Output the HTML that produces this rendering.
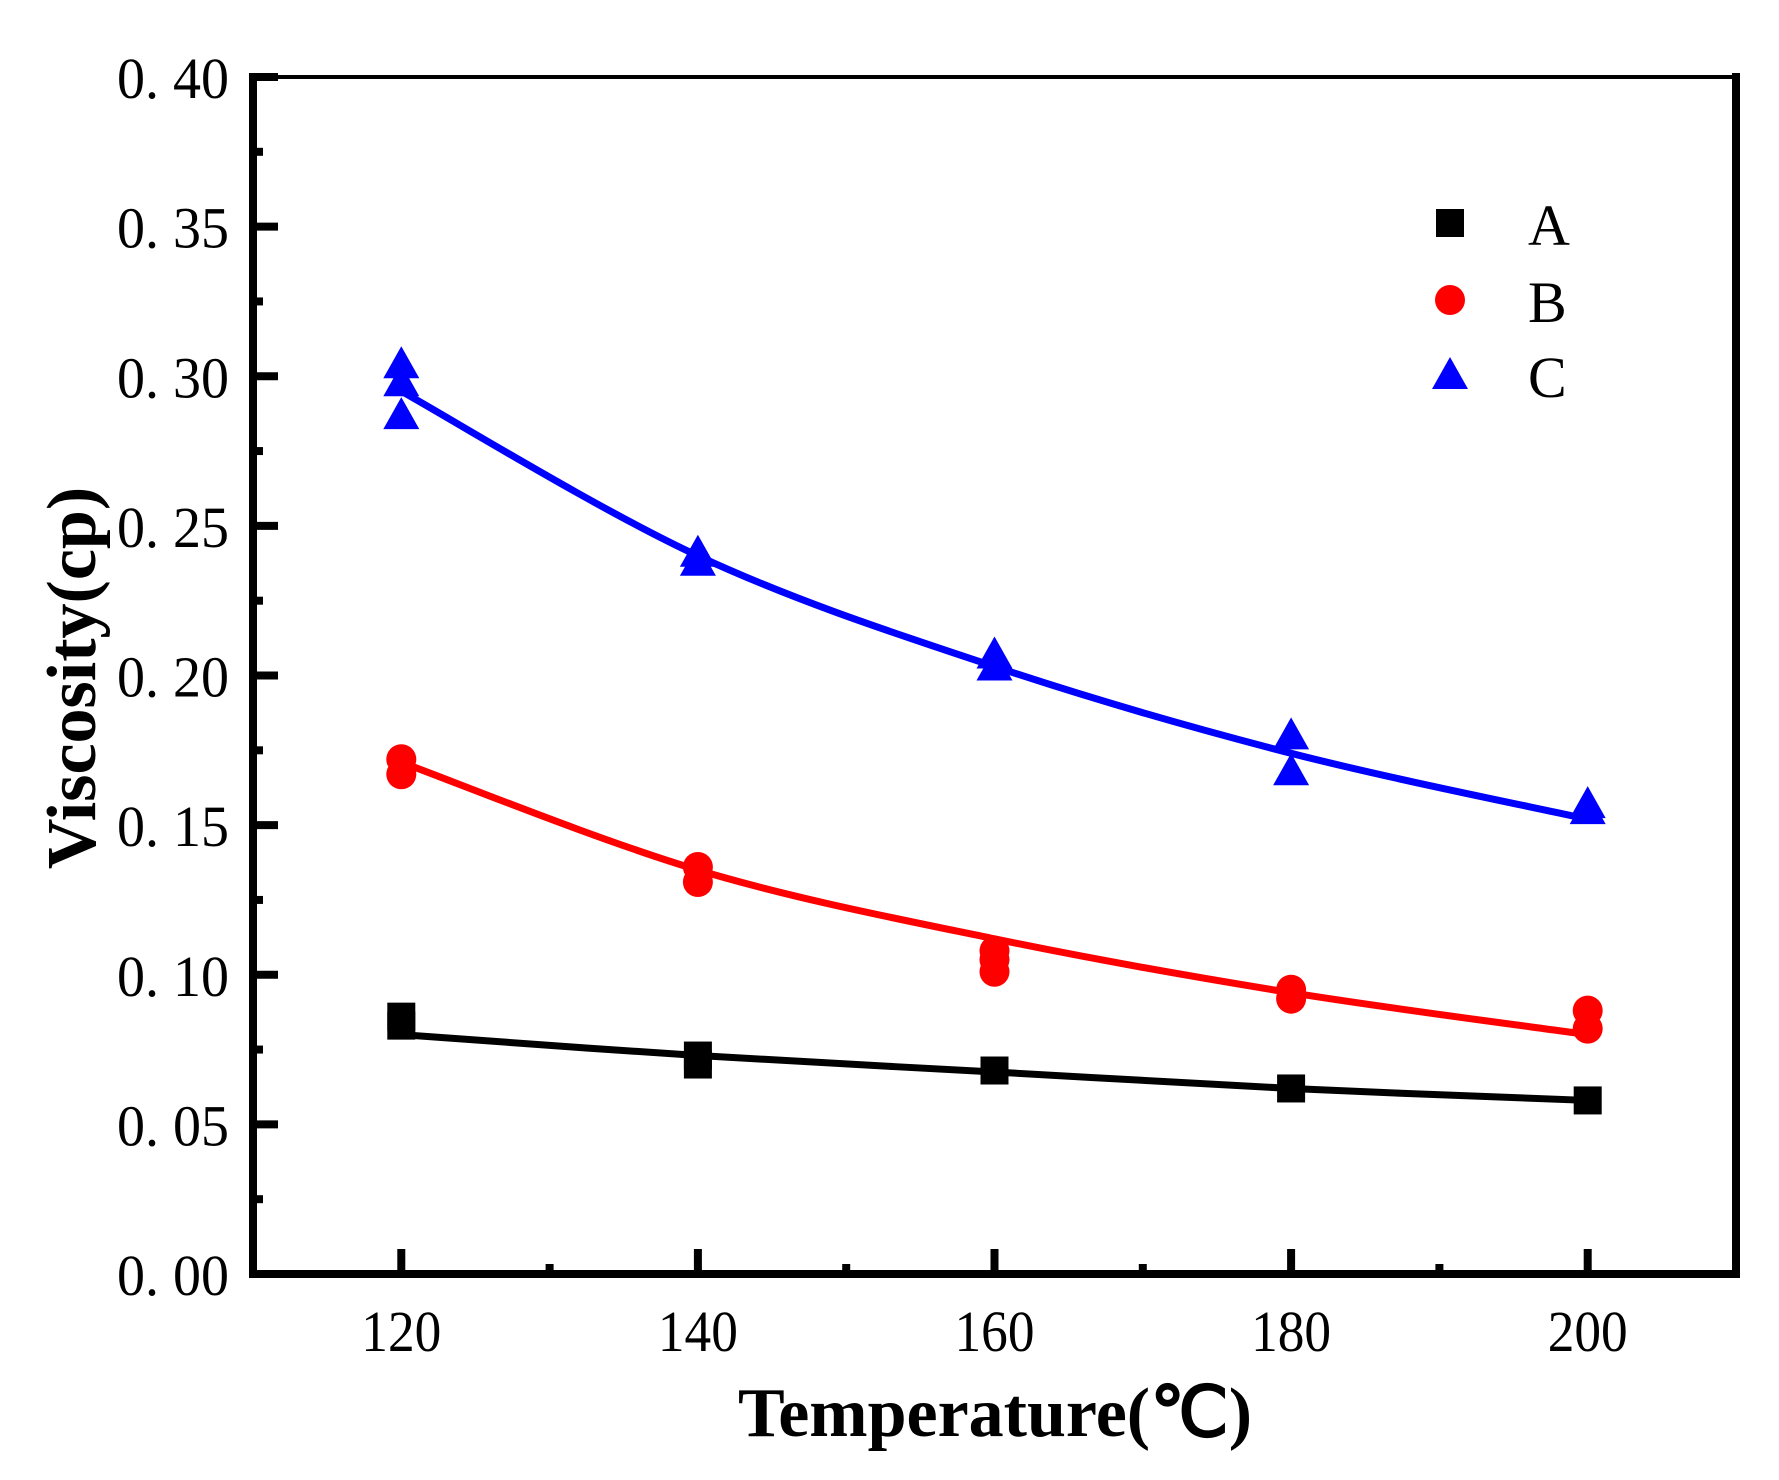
<!DOCTYPE html>
<html><head><meta charset="utf-8"><style>body{margin:0;background:#fff}svg{display:block}</style></head>
<body>
<svg id="chart" width="1779" height="1480" xmlns="http://www.w3.org/2000/svg">
<rect width="1779" height="1480" fill="#fff"/>
<g id="plot"></g>
</svg>
<script>
const xTicks=[120,140,160,180,200];
const yTicks=[0,0.05,0.10,0.15,0.20,0.25,0.30,0.35,0.40];
const yLabels=["0. 00","0. 05","0. 10","0. 15","0. 20","0. 25","0. 30","0. 35","0. 40"];
const temps=[120,140,160,180,200];
const ptsAx=[120,120,140,140,160,180,200];
const ptsAy=[0.086,0.083,0.073,0.070,0.068,0.062,0.058];
const fitA=[0.080,0.073,0.0675,0.062,0.058];
const ptsBx=[120,120,140,140,160,160,160,180,180,200,200];
const ptsBy=[0.172,0.167,0.136,0.131,0.108,0.105,0.101,0.095,0.092,0.088,0.082];
const fitB=[0.171,0.135,0.112,0.094,0.080];
const ptsCx=[120,120,120,140,140,160,160,180,180,200,200];
const ptsCy=[0.304,0.298,0.287,0.241,0.238,0.207,0.203,0.180,0.168,0.157,0.155];
const fitC=[0.295,0.240,0.203,0.174,0.152];

const L=253,R=1736,T=77,B=1274;
const X=v=>L+(v-110)/(100)*(R-L);
const Y=v=>B-v/0.40*(B-T);
const NS="http://www.w3.org/2000/svg";
const g=document.getElementById('plot');
function mk(t,a,p){const e=document.createElementNS(NS,t);for(const k in a)e.setAttribute(k,a[k]);(p||g).appendChild(e);return e;}

function curve(ys){
  const p=temps.map((t,i)=>[X(t),Y(ys[i])]);
  let d=`M${p[0][0]},${p[0][1]}`;
  for(let i=0;i<p.length-1;i++){
    const p0=p[Math.max(0,i-1)],p1=p[i],p2=p[i+1],p3=p[Math.min(p.length-1,i+2)];
    d+=` C${p1[0]+(p2[0]-p0[0])/6},${p1[1]+(p2[1]-p0[1])/6} ${p2[0]-(p3[0]-p1[0])/6},${p2[1]-(p3[1]-p1[1])/6} ${p2[0]},${p2[1]}`;
  }
  return d;
}
const series=[
 {n:'a',c:'#000',xs:ptsAx,ys:ptsAy,f:fitA,s:'sq'},
 {n:'b',c:'#ff0000',xs:ptsBx,ys:ptsBy,f:fitB,s:'ci'},
 {n:'c',c:'#0000ff',xs:ptsCx,ys:ptsCy,f:fitC,s:'tr'}];
function marker(s,x,y,c,name){
  let e;
  if(s==='sq')e=mk('rect',{x:x-14,y:y-14,width:28,height:28,fill:c});
  else if(s==='ci')e=mk('circle',{cx:x,cy:y,r:15,fill:c});
  else e=mk('polygon',{points:`${x},${y-18} ${x-18},${y+14} ${x+18},${y+14}`,fill:c});
  
  
}
series.forEach(s=>{
  const p=mk('path',{d:curve(s.f),fill:'none',stroke:s.c,'stroke-width':7});
  
  
  s.xs.forEach((x,i)=>marker(s.s,X(x),Y(s.ys[i]),s.c,'point-'+s.n));
});

const fr=mk('path',{d:`M${L},${T} H${R} V${B} H${L} Z`,fill:'none',stroke:'#000','stroke-width':4});

const ax=mk('path',{d:`M${L},${T-4} V${B} H${R+4} M${R},${T-4} V${B}`,fill:'none',stroke:'#000','stroke-width':8});


for(let v=120;v<=200;v+=10){
  const maj=v%20===0;
  const t=mk('line',{x1:X(v),x2:X(v),y1:B,y2:B-(maj?25:10),stroke:'#000','stroke-width':8});
  
}
xTicks.forEach(v=>{
  const t=mk('text',{x:X(v),y:1351,'text-anchor':'middle','font-family':'Liberation Serif, serif','font-size':58,textLength:80,lengthAdjust:'spacingAndGlyphs'});
  t.textContent=v;
  
});
for(let v=0;v<=0.4001;v+=0.025){
  const maj=Math.round(v*1000)%50===0;
  const t=mk('line',{x1:L,x2:L+(maj?25:10),y1:Y(v),y2:Y(v),stroke:'#000','stroke-width':8});
  
}
yTicks.forEach((v,i)=>{
  const t=mk('text',{x:229,y:Y(v)+21,'text-anchor':'end','font-family':'Liberation Serif, serif','font-size':58,textLength:112,lengthAdjust:'spacingAndGlyphs'});
  t.textContent=yLabels[i];
  
});
const xt=mk('text',{x:995,y:1436,'text-anchor':'middle','font-family':'Liberation Serif, serif','font-size':70,'font-weight':'bold'});
xt.textContent='Temperature(℃)';

const yt=mk('text',{x:0,y:0,transform:'translate(95,678) rotate(-90)','text-anchor':'middle','font-family':'Liberation Serif, serif','font-size':70,'font-weight':'bold'});
yt.textContent='Viscosity(cp)';


const leg=[['A','sq','#000',223],['B','ci','#ff0000',300],['C','tr','#0000ff',375]];
leg.forEach(l=>{
  marker(l[1],1450,l[3],l[2],'legend-marker-'+l[0].toLowerCase());
  const t=mk('text',{x:1528,y:l[3]+22,'font-family':'Liberation Serif, serif','font-size':58});
  t.textContent=l[0];
  
});
</script>
</body></html>
